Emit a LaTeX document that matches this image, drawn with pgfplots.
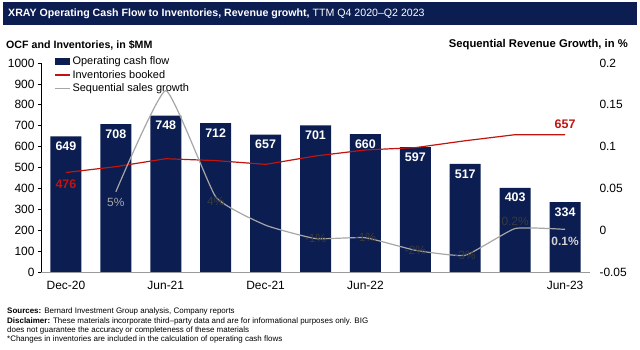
\documentclass[border=0pt]{standalone}
\usepackage{pgfplots}
\pgfplotsset{compat=1.18}
\usepackage{fontspec}
\setmainfont{Liberation Sans}
\definecolor{navy}{HTML}{0B1D51}
\definecolor{dred}{HTML}{C0140F}
\definecolor{lgray}{HTML}{A6A6A6}
\definecolor{dgray}{HTML}{3A3A3A}
\newcommand{\fs}[1]{\fontsize{#1}{#1}\selectfont}
\begin{document}
\begin{tikzpicture}
\path[use as bounding box] (0bp,0bp) rectangle (640bp,350bp);
\fill[navy] (3bp,348bp) rectangle (637bp,325bp);
\node[anchor=west, text=white, font=\fs{10.65}, inner sep=0] at (8bp,336.5bp) {\textbf{XRAY Operating Cash Flow to Inventories, Revenue growht,} TTM Q4 2020–Q2 2023};
\node[anchor=west, font=\bfseries\fs{10.7}, inner sep=0] at (6bp,305bp) {OCF and Inventories, in \$MM};
\node[anchor=east, font=\bfseries\fs{11.3}, inner sep=0] at (628bp,305bp) {Sequential Revenue Growth, in \%};

\begin{axis}[
  at={(41bp,78bp)}, anchor=south west, scale only axis,
  width=549bp, height=209bp,
  xmin=-0.5, xmax=10.5, ymin=0, ymax=1000,
  ytick={0,100,...,1000},
  xtick={0,2,4,6,10}, xticklabels={Dec-20,Jun-21,Dec-21,Jun-22,Jun-23},
  axis y line*=left, axis x line*=bottom,
  x axis line style={draw=gray!80, line width=0.8bp, -},
  y axis line style={draw=black, line width=0.6bp, -},
  xtick style={draw=none},
  ytick style={draw=black, line width=0.6bp},
  tick align=outside, major tick length=3bp,
  tick label style={font=\fs{12}},
  /pgf/number format/assume math mode=true,
  /pgf/number format/1000 sep={},
  xticklabel style={yshift=-3bp},
  legend style={at={(0.024,1.04)}, anchor=north west, draw=none, fill=none,
    font=\fs{11}, inner sep=0pt, row sep=0bp,
    /tikz/every even column/.append style={column sep=0pt}},
  legend cell align=left,
  clip=false,
]
\addplot[ybar, bar width=31bp, bar shift=0pt, fill=navy, draw=none,
  nodes near coords,
  every node near coord/.append style={anchor=north, text=white, font=\bfseries\fs{12.5}, yshift=-2bp},
  legend image code/.code={\fill[navy] (0bp,-3.5bp) rectangle (15bp,3.5bp);}]
  coordinates {(0,649)(1,708)(2,748)(3,712)(4,657)(5,701)(6,660)(7,597)(8,517)(9,403)(10,334)};
\addlegendentry{Operating cash flow}
\addplot[dred, line width=1.2bp, mark=none,
  legend image code/.code={\draw[dred, line width=1.2bp] (0bp,0bp) -- (15bp,0bp);}]
  coordinates {(0,476)(1,504)(2,542)(3,533)(4,515)(5,555)(6,584)(7,595)(8,628)(9,657)(10,657)};
\addlegendentry{Inventories booked}
\addlegendimage{legend image code/.code={\draw[lgray, line width=1.2bp] (0bp,0bp) -- (15bp,0bp);}}
\addlegendentry{Sequential sales growth}
\node[anchor=north, text=dred, font=\bfseries\fs{12.5}, yshift=-4bp] at (axis cs:0,476) {476};
\node[anchor=south, text=dred, font=\bfseries\fs{12.5}, yshift=3bp] at (axis cs:10,657) {657};
\end{axis}

\begin{axis}[
  at={(41bp,78bp)}, anchor=south west, scale only axis,
  width=549bp, height=209bp,
  xmin=-0.5, xmax=10.5, ymin=-0.05, ymax=0.2,
  ytick={-0.05,0,0.05,0.1,0.15,0.2},
  yticklabels={-0.05,0,0.05,0.1,0.15,0.2},
  axis y line*=right, hide x axis,
  y axis line style={draw=none},
  ytick style={draw=none},
  yticklabel style={anchor=west, xshift=6bp, font=\fs{12}},
  clip=false,
]
\addplot[lgray, line width=1.2bp, smooth, tension=0.25, mark=none]
  coordinates {(1,0.046)(2,0.167)(3,0.040)(4,0.006)(5,-0.010)(6,-0.009)(7,-0.024)(8,-0.030)(9,0.002)(10,0.001)};
\node[anchor=north, text=lgray, font=\fs{12}, yshift=-3bp] at (axis cs:1,0.046) {5\%};
\node[text=dgray, font=\fs{12}, yshift=-5bp] at (axis cs:3,0.040) {4\%};
\node[text=dgray, font=\fs{12}] at (axis cs:5,-0.010) {-1\%};
\node[text=dgray, font=\fs{12}] at (axis cs:6,-0.009) {-1\%};
\node[text=dgray, font=\fs{12}] at (axis cs:7,-0.024) {-2\%};
\node[text=dgray, font=\fs{12}] at (axis cs:8,-0.030) {-3\%};
\node[anchor=south, text=dgray, font=\fs{12}, yshift=-1bp] at (axis cs:9,0.002) {0.2\%};
\node[anchor=north, text=gray!35, font=\bfseries\fs{12}, yshift=-4bp] at (axis cs:10,0.001) {0.1\%};
\end{axis}

\node[anchor=west, font=\fs{8}, inner sep=0] at (7bp,39bp) {\textbf{Sources:} Bernard Investment Group analysis, Company reports};
\node[anchor=west, font=\fs{8}, inner sep=0] at (7bp,29bp) {\textbf{Disclaimer:} These materials incorporate third–party data and are for informational purposes only. BIG};
\node[anchor=west, font=\fs{8}, inner sep=0] at (7bp,20bp) {does not guarantee the accuracy or completeness of these materials};
\node[anchor=west, font=\fs{8}, inner sep=0] at (7bp,11bp) {*Changes in inventories are included in the calculation of operating cash flows};
\end{tikzpicture}
\end{document}
